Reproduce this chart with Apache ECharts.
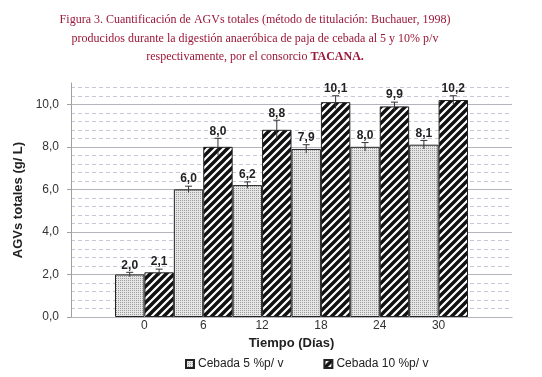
<!DOCTYPE html>
<html>
<head>
<meta charset="utf-8">
<script src="https://cdn.jsdelivr.net/npm/echarts@6/dist/echarts.min.js"></script>
<style>
  html, body { margin: 0; padding: 0; background: #fff; }
  #chart { width: 542px; height: 377px; }
</style>
</head>
<body>
<div id="chart"></div>
<script>
// datos
var dias = ['0', '6', '12', '18', '24', '30'];
var cebada5 = [2.0, 6.0, 6.2, 7.9, 8.0, 8.1];
var cebada10 = [2.1, 8.0, 8.8, 10.1, 9.9, 10.2];
var err5 = [0.1, 0.15, 0.15, 0.2, 0.2, 0.2];
var err10 = [0.15, 0.4, 0.45, 0.3, 0.2, 0.2];
var yTicks = [0, 2, 4, 6, 8, 10];

var nombre5 = 'Cebada 5 %p/ v';
var nombre10 = 'Cebada 10 %p/ v';

// patrones de relleno
function patronPuntos() {
  var c = document.createElement('canvas');
  c.width = 2; c.height = 2;
  var ctx = c.getContext('2d');
  ctx.fillStyle = '#e6e6e6';
  ctx.fillRect(0, 0, 2, 2);
  ctx.fillStyle = '#9a9a9a';
  ctx.fillRect(0, 0, 1, 1);
  return { image: c, repeat: 'repeat' };
}
function patronRayas() {
  var c = document.createElement('canvas');
  c.width = 8; c.height = 8;
  var ctx = c.getContext('2d');
  ctx.fillStyle = '#ffffff';
  ctx.fillRect(0, 0, 8, 8);
  ctx.strokeStyle = '#111111';
  ctx.lineWidth = 3.4;
  ctx.beginPath();
  ctx.moveTo(-2, 10); ctx.lineTo(10, -2);
  ctx.moveTo(-2, 2); ctx.lineTo(2, -2);
  ctx.moveTo(6, 10); ctx.lineTo(10, 6);
  ctx.stroke();
  return { image: c, repeat: 'repeat' };
}

function fmt(v) {
  return v.toFixed(1).replace('.', ',');
}

function errores(valores, errs, lado) {
  return valores.map(function (v, i) { return [i, v, errs[i], lado]; });
}

function renderError(params, api) {
  var i = api.value(0), v = api.value(1), e = api.value(2), lado = api.value(3);
  var band = api.size([1, 0])[0];
  var x = api.coord([i, v])[0] + lado * band / 4;
  var yTop = api.coord([i, v + e])[1];
  var yBot = api.coord([i, v - e])[1];
  var cap = 3.5;
  var st = { stroke: '#333', lineWidth: 1 };
  return {
    type: 'group',
    children: [
      { type: 'line', shape: { x1: x, y1: yTop, x2: x, y2: yBot }, style: st },
      { type: 'line', shape: { x1: x - cap, y1: yTop, x2: x + cap, y2: yTop }, style: st },
      { type: 'text', style: {
          x: x, y: yTop - 1, text: fmt(v), align: 'center', verticalAlign: 'bottom',
          font: 'bold 12px "Liberation Sans", Arial, sans-serif', fill: '#222'
      } }
    ]
  };
}

var chart = echarts.init(document.getElementById('chart'));

var option = {
  animation: false,
  title: {
    text: 'Figura 3. Cuantificación de AGVs totales (método de titulación: Buchauer, 1998)\n' +
          'producidos durante la digestión anaeróbica de paja de cebada al 5 y 10% p/v\n' +
          'respectivamente, por el consorcio {b|TACANA.}',
    left: 250,
    top: 6,
    textAlign: 'center',
    textStyle: {
      fontFamily: '"Liberation Serif", serif',
      fontSize: 12,
      fontWeight: 'normal',
      color: '#9a1838',
      lineHeight: 18.5,
      rich: {
        b: { fontFamily: '"Liberation Serif", serif', fontSize: 12, fontWeight: 'bold', color: '#9a1838', lineHeight: 18.5 }
      }
    }
  },
  legend: {
    data: [nombre5, nombre10],
    left: 180,
    top: 353,
    itemWidth: 8,
    itemHeight: 8,
    itemGap: 40,
    icon: 'rect',
    textStyle: { fontFamily: '"Liberation Sans", Arial, sans-serif', fontSize: 12, color: '#222', padding: [0, 0, 0, -1] }
  },
  grid: [
    { left: 71, right: 30, top: 83, bottom: 60 },
    { left: 115, right: 74, top: 83, bottom: 60 }
  ],
  xAxis: [
    {
      type: 'value', gridIndex: 0, min: 0, max: 1,
      axisLine: { show: true, lineStyle: { color: '#a0a0a0', width: 1 } },
      axisTick: { show: false }, axisLabel: { show: false }, splitLine: { show: false }
    },
    {
      type: 'category', gridIndex: 1, data: dias,
      axisLine: { show: false }, axisTick: { show: false },
      axisLabel: { margin: 3, fontFamily: '"Liberation Sans", Arial, sans-serif', fontSize: 12, color: '#333' },
      name: 'Tiempo (Días)', nameLocation: 'middle', nameGap: 19,
      nameTextStyle: { fontFamily: '"Liberation Sans", Arial, sans-serif', fontSize: 13, fontWeight: 'bold', color: '#222' }
    }
  ],
  yAxis: [
    {
      type: 'value', gridIndex: 0, min: 0, max: 11, interval: 2,
      axisLine: { show: true, lineStyle: { color: '#a0a0a0', width: 1 } },
      axisTick: { show: true, length: 4, lineStyle: { color: '#a0a0a0' } },
      axisLabel: {
        margin: 12, showMaxLabel: false,
        fontFamily: '"Liberation Sans", Arial, sans-serif', fontSize: 12, color: '#333',
        formatter: function (v) { return yTicks.indexOf(v) >= 0 ? fmt(v) : ''; }
      },
      splitLine: { show: true, showMaxLine: false, lineStyle: { color: '#b4b4bc', width: 1 } },
      name: 'AGVs totales (g/ L)', nameLocation: 'middle', nameGap: 36, nameRotate: 90,
      nameTextStyle: { fontFamily: '"Liberation Sans", Arial, sans-serif', fontSize: 13, fontWeight: 'bold', color: '#222' },
      z: 3
    },
    {
      type: 'value', gridIndex: 0, min: 0, max: 11, interval: 0.4,
      axisLine: { show: false }, axisTick: { show: false }, axisLabel: { show: false },
      splitLine: { show: true, showMaxLine: false, showMinLine: false, lineStyle: { color: '#c9c6d8', width: 1, type: [4, 3] } },
      z: 1
    },
    {
      type: 'value', gridIndex: 1, min: 0, max: 11,
      show: false, splitLine: { show: false }
    }
  ],
  series: [
    {
      name: nombre5, type: 'bar', xAxisIndex: 1, yAxisIndex: 2,
      data: cebada5, barGap: '0%', barCategoryGap: '0%',
      itemStyle: { color: patronPuntos(), borderColor: '#222', borderWidth: 1 },
      z: 3
    },
    {
      name: nombre10, type: 'bar', xAxisIndex: 1, yAxisIndex: 2,
      data: cebada10, barGap: '0%', barCategoryGap: '0%',
      itemStyle: { color: patronRayas(), borderColor: '#222', borderWidth: 1 },
      z: 3
    },
    {
      type: 'custom', xAxisIndex: 1, yAxisIndex: 2,
      renderItem: renderError, data: errores(cebada5, err5, -1), z: 5, silent: true
    },
    {
      type: 'custom', xAxisIndex: 1, yAxisIndex: 2,
      renderItem: renderError, data: errores(cebada10, err10, 1), z: 5, silent: true
    }
  ]
};

chart.setOption(option);
</script>
</body>
</html>
